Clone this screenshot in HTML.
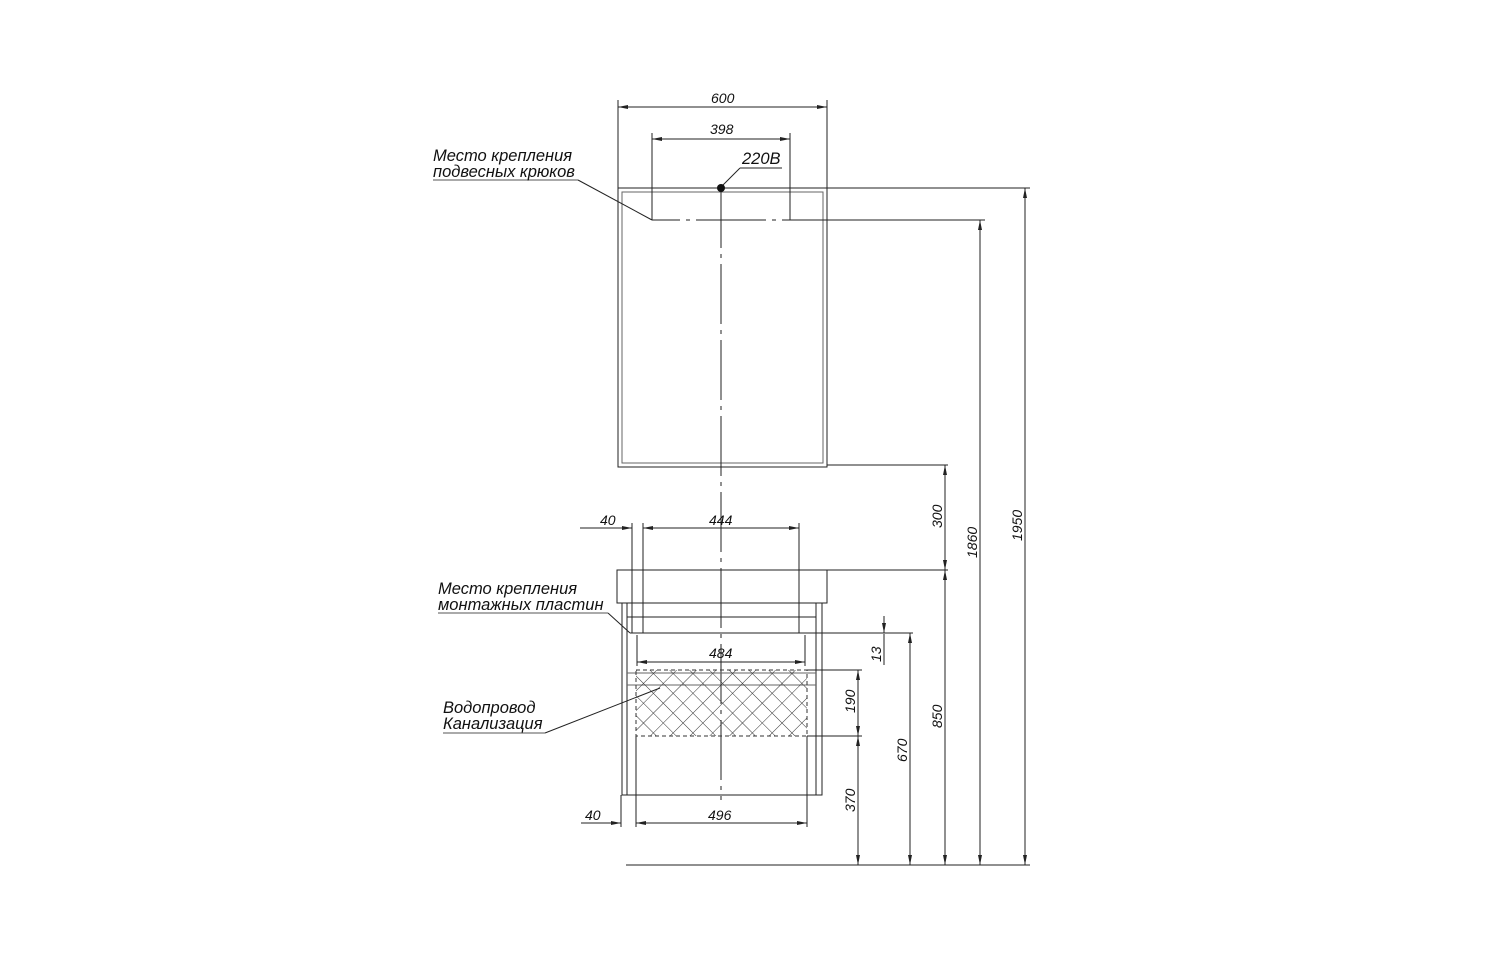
<!DOCTYPE html>
<html><head><meta charset="utf-8"><style>
html,body{margin:0;padding:0;background:#fff}
svg{display:block}
text{font-family:"Liberation Sans",sans-serif;font-style:italic;font-size:14px;fill:#111}
text.l{font-size:16.5px}
</style></head><body>
<svg width="1494" height="978" viewBox="0 0 1494 978" xmlns="http://www.w3.org/2000/svg">
<defs>
<pattern id="h" width="14" height="14" patternUnits="userSpaceOnUse" patternTransform="rotate(45)">
<path d="M0 0H14M0 0V14" stroke="#333" stroke-width="1"/>
</pattern>
<marker id="a" viewBox="0 0 10 4" refX="10" refY="2" markerWidth="10" markerHeight="4" orient="auto-start-reverse" markerUnits="userSpaceOnUse"><path d="M0 0L10 2L0 4Z" fill="#222"/></marker>
</defs>
<g stroke="#222" stroke-width="1" fill="none">
<rect x="618" y="188" width="209" height="279"/>
<rect x="622" y="192" width="201" height="271" stroke="#666"/>
<line x1="827" y1="188" x2="1030" y2="188"/>
<line x1="652" y1="220" x2="985" y2="220" stroke-dasharray="28,6,4,6,70,6,4,6,500"/>
<line x1="827" y1="465" x2="948" y2="465"/>
<line x1="721" y1="188" x2="721" y2="800" stroke-dasharray="60,6,4,6"/>
<line x1="618" y1="100" x2="618" y2="188"/><line x1="827" y1="100" x2="827" y2="188"/>
<line x1="618" y1="107" x2="827" y2="107" marker-start="url(#a)" marker-end="url(#a)"/>
<line x1="652" y1="133" x2="652" y2="220"/><line x1="790" y1="133" x2="790" y2="220"/>
<line x1="652" y1="139" x2="790" y2="139" marker-start="url(#a)" marker-end="url(#a)"/>
<line x1="433" y1="180" x2="578" y2="180" stroke="#555"/>
<line x1="578" y1="180" x2="652" y2="220"/>
<line x1="740" y1="168" x2="782" y2="168"/>
<line x1="740" y1="168" x2="722" y2="186"/>
<rect x="617" y="570" width="210" height="33"/>
<line x1="827" y1="570" x2="948" y2="570"/>
<rect x="622" y="603" width="200" height="192"/>
<line x1="627" y1="603" x2="627" y2="795"/><line x1="816" y1="603" x2="816" y2="795"/>
<line x1="627" y1="617" x2="816" y2="617"/>
<line x1="627" y1="673" x2="816" y2="673" stroke="#666"/>
<line x1="627" y1="685" x2="816" y2="685" stroke="#666"/>
<rect x="636" y="670" width="171" height="66" fill="url(#h)" stroke="#333" stroke-dasharray="4,3"/>
<line x1="630" y1="633" x2="913" y2="633"/>
<line x1="807" y1="736" x2="862" y2="736"/>
<line x1="807" y1="670" x2="862" y2="670"/>
<line x1="626" y1="865" x2="1030" y2="865"/>
<line x1="632" y1="523" x2="632" y2="633"/><line x1="643" y1="523" x2="643" y2="633"/><line x1="799" y1="523" x2="799" y2="633"/>
<line x1="580" y1="528" x2="632" y2="528" marker-end="url(#a)"/>
<line x1="643" y1="528" x2="799" y2="528" marker-start="url(#a)" marker-end="url(#a)"/>
<line x1="637" y1="635" x2="637" y2="666"/><line x1="805" y1="635" x2="805" y2="666"/>
<line x1="637" y1="662" x2="805" y2="662" marker-start="url(#a)" marker-end="url(#a)"/>
<line x1="621" y1="795" x2="621" y2="827"/><line x1="636" y1="736" x2="636" y2="827"/><line x1="807" y1="736" x2="807" y2="827"/>
<line x1="581" y1="823" x2="621" y2="823" marker-end="url(#a)"/>
<line x1="636" y1="823" x2="807" y2="823" marker-start="url(#a)" marker-end="url(#a)"/>
<line x1="884" y1="616" x2="884" y2="633" marker-end="url(#a)"/>
<line x1="884" y1="634" x2="884" y2="665"/>
<line x1="858" y1="670" x2="858" y2="736" marker-start="url(#a)" marker-end="url(#a)"/>
<line x1="858" y1="736" x2="858" y2="865" marker-start="url(#a)" marker-end="url(#a)"/>
<line x1="910" y1="633" x2="910" y2="865" marker-start="url(#a)" marker-end="url(#a)"/>
<line x1="945" y1="465" x2="945" y2="570" marker-start="url(#a)" marker-end="url(#a)"/>
<line x1="945" y1="570" x2="945" y2="865" marker-start="url(#a)" marker-end="url(#a)"/>
<line x1="980" y1="220" x2="980" y2="865" marker-start="url(#a)" marker-end="url(#a)"/>
<line x1="1025" y1="188" x2="1025" y2="865" marker-start="url(#a)" marker-end="url(#a)"/>
<line x1="438" y1="613" x2="608" y2="613" stroke="#555"/>
<line x1="608" y1="613" x2="630" y2="633"/>
<line x1="443" y1="733" x2="545" y2="733" stroke="#555"/>
<line x1="545" y1="733" x2="660" y2="688"/>
</g>
<circle cx="721" cy="188" r="4" fill="#111"/>
<text x="711" y="103">600</text>
<text x="710" y="134">398</text>
<text class="l" x="742" y="164">220В</text>
<text class="l" x="433" y="161">Место крепления</text>
<text class="l" x="433" y="177">подвесных крюков</text>
<text x="600" y="525">40</text>
<text x="709" y="525">444</text>
<text x="709" y="658">484</text>
<text x="585" y="820">40</text>
<text x="708" y="820">496</text>
<text class="l" x="438" y="594">Место крепления</text>
<text class="l" x="438" y="610">монтажных пластин</text>
<text class="l" x="443" y="713">Водопровод</text>
<text class="l" x="443" y="729">Канализация</text>
<g>
<text transform="translate(881,662) rotate(-90)">13</text>
<text transform="translate(855,713) rotate(-90)">190</text>
<text transform="translate(855,812) rotate(-90)">370</text>
<text transform="translate(907,762) rotate(-90)">670</text>
<text transform="translate(942,528) rotate(-90)">300</text>
<text transform="translate(942,728) rotate(-90)">850</text>
<text transform="translate(977,558) rotate(-90)">1860</text>
<text transform="translate(1022,541) rotate(-90)">1950</text>
</g>
</svg>
</body></html>
